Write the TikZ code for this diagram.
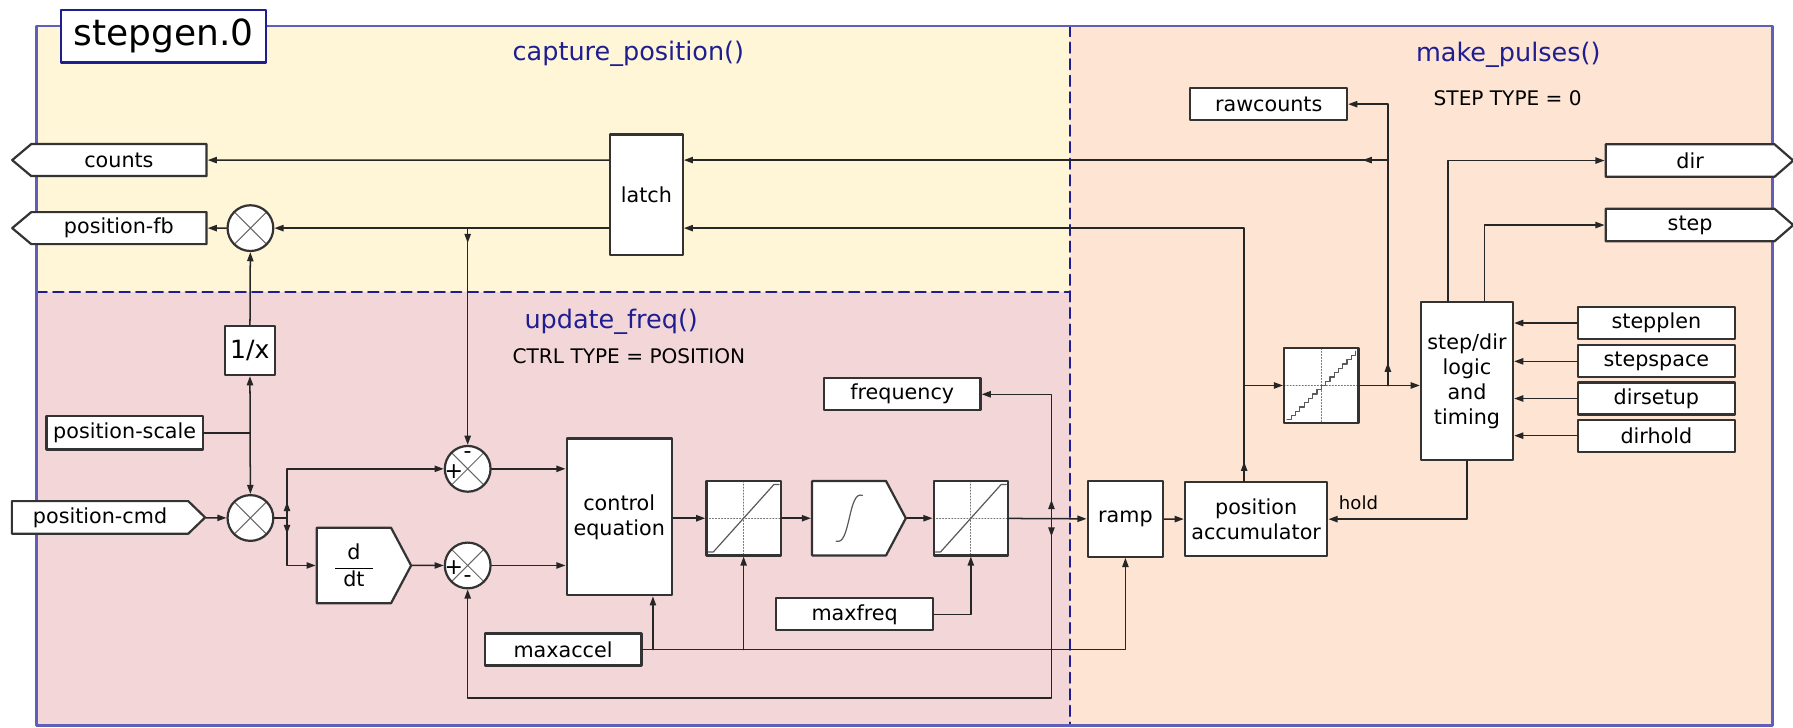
\documentclass[tikz,border=0pt]{standalone}
\usepackage{fontspec}
\setmainfont{DejaVu Sans}
\usepackage{pgf,tikz}
\usetikzlibrary{arrows.meta,shapes.symbols}

\definecolor{capbg}{RGB}{255,245,215}
\definecolor{freqbg}{RGB}{243,214,216}
\definecolor{pulsebg}{RGB}{253,228,211}
\definecolor{frameblue}{RGB}{95,95,185}
\definecolor{navy}{RGB}{30,30,145}

\newcommand\lblfont{\fontsize{10.3}{12.5}\selectfont}
\newcommand\headfont{\fontsize{12.7}{15}\selectfont}

\tikzset{
  box/.style={draw=black!80, line width=1.1pt, fill=white, inner sep=0pt, align=center, font=\lblfont},
  pin/.style={box, minimum width=27.4mm, minimum height=5.6mm},
  portin/.style={box, shape=signal, signal to=east, signal pointer angle=88, minimum height=5.7mm},
  portout/.style={box, shape=signal, signal to=west, signal pointer angle=80, minimum height=5.6mm},
  mult/.style={draw=black!80, line width=1.1pt, fill=white, circle, minimum size=8mm, inner sep=0pt,
    path picture={\draw[black!60, line width=0.5pt]
      (path picture bounding box.north west) -- (path picture bounding box.south east)
      (path picture bounding box.north east) -- (path picture bounding box.south west);}},
  sign/.style={inner sep=0pt, font=\fontsize{11}{11}\selectfont},
  limiter/.style={box, minimum size=13mm,
    path picture={\draw[black!55, densely dotted, line width=0.5pt]
      (path picture bounding box.west) -- (path picture bounding box.east)
      (path picture bounding box.north) -- (path picture bounding box.south);
      \draw[black!65, line width=0.6pt] ([shift={(0.3mm,0.6mm)}]path picture bounding box.south west) -- ++(0.9mm,0)
      -- ([shift={(-1.2mm,-0.6mm)}]path picture bounding box.north east) -- ++(0.9mm,0);}},
  quantizer/.style={box, minimum size=13mm,
    path picture={\draw[black!55, densely dotted, line width=0.5pt]
      (path picture bounding box.west) -- (path picture bounding box.east)
      (path picture bounding box.north) -- (path picture bounding box.south);
      \draw[black!65, line width=0.6pt] ([shift={(0.5mm,0.5mm)}]path picture bounding box.south west)
      \foreach \k in {1,...,16} { -- ++(0.75mm,0) -- ++(0,0.75mm)};}},
  wire/.style={black!85, line width=0.75pt},
  heading/.style={text=navy, font=\headfont, inner sep=0pt},
  note/.style={font=\fontsize{10}{12}\selectfont, inner sep=0pt},
}

\begin{document}
\begin{tikzpicture}[x=0.2mm, y=-0.2mm, line cap=round, line join=round, >={Triangle[length=1.6mm,width=1.1mm]}]
\useasboundingbox (0,0) rectangle (1568,636);
\fill[capbg] (32,22.7) rectangle (935.8,255.6);
\fill[freqbg] (32,255.6) rectangle (935.8,634.5);
\fill[pulsebg] (935.8,22.7) rectangle (1550,634.5);
\draw[navy, line width=1.1pt, dash pattern=on 1.8mm off 1.1mm] (32,255.6) -- (935.8,255.6);
\draw[navy, line width=1.1pt, dash pattern=on 1.8mm off 1.1mm] (935.8,22.7) -- (935.8,634.5);
\draw[frameblue, line width=1.2pt] (32,22.7) rectangle (1550,634.5);

\node[box, draw=navy, font=\fontsize{17.9}{20}\selectfont, minimum width=35.8mm, minimum height=9.2mm] (compname) at (143,31.6) {stepgen.0};
\node[heading] (captitle) at (549.5,46.7) {capture\_position()};
\node[heading] (freqtitle) at (534.5,281.3) {update\_freq()};
\node[note] (ctrltype) at (550,311.3) {CTRL TYPE = POSITION};
\node[heading] (pulsetitle) at (1319,48) {make\_pulses()};
\node[note] (steptype) at (1318.5,86) {STEP TYPE = 0};

\node[portout, minimum width=34mm] (counts) at (104,140) {counts};
\node[portout, minimum width=34mm] (posfb) at (104,199.5) {position-fb};
\node[mult] (fbmult) at (219,199.5) {};
\node[box, minimum width=12.7mm, minimum height=21.1mm] (latch) at (565.3,170.3) {latch};
\node[box, font=\fontsize{12.5}{14}\selectfont, minimum width=8.7mm, minimum height=8.6mm] (recip) at (218.5,306.5) {1/x};
\node[box, minimum width=27.3mm, minimum height=5.8mm] (posscale) at (109,378.5) {position-scale};
\node[portin, minimum width=33.8mm] (poscmd) at (87.5,452.5) {position-cmd};
\node[mult] (cmdmult) at (219,453) {};
\node[portin, signal pointer angle=124, minimum width=16.5mm, minimum height=13.2mm] (ddt) at (309.5,494.5)
  {$\displaystyle{\hbox to 6.6mm{\hfil d\hfil}\over\hbox to 6.6mm{\hfil dt\hfil}}$};
\node[mult] (errsum) at (409,410) {};
\node[sign] (errsumplus) at ([shift={(-2.4mm,-0.5mm)}]errsum.center) {+};
\node[sign] (errsumminus) at ([shift={(0,2.4mm)}]errsum.center) {-};
\node[mult] (velsum) at (409,494.5) {};
\node[sign] (velsumplus) at ([shift={(-2.4mm,-0.3mm)}]velsum.center) {+};
\node[sign] (velsumminus) at ([shift={(0,-2.4mm)}]velsum.center) {-};
\node[box, minimum width=18.4mm, minimum height=27.4mm] (ctrl) at (541.5,452) {control\\equation};
\node[limiter] (acclim) at (650.3,453.2) {};
\node[portin, signal pointer angle=124, minimum width=16.4mm, minimum height=13mm] (integ) at (742.5,453.2) {};
\coordinate (sc) at ([xshift=6.7mm]integ.west);
\draw[black!65, line width=0.6pt] ([shift={(-2.3mm,-4mm)}]sc) .. controls ([shift={(-1.1mm,-4.4mm)}]sc) and ([shift={(-0.6mm,-2.6mm)}]sc) .. (sc)
  .. controls ([shift={(0.6mm,2.6mm)}]sc) and ([shift={(1.1mm,4.4mm)}]sc) .. ([shift={(2.3mm,4mm)}]sc);
\node[limiter] (freqlim) at (849,453.2) {};
\node[pin] (freq) at (789,344.8) {frequency};
\node[pin] (maxfreq) at (747.4,537.2) {maxfreq};
\node[pin] (maxaccel) at (492.4,568) {maxaccel};
\node[box, minimum size=13.2mm] (ramp) at (984.2,453.9) {ramp};
\node[box, minimum width=24.9mm, minimum height=12.9mm] (posacc) at (1098.5,454) {position\\accumulator};
\node[quantizer] (quant) at (1155.5,337.1) {};
\node[pin] (rawcounts) at (1109.5,91.1) {rawcounts};
\node[box, minimum width=16.1mm, minimum height=27.6mm] (stepdir) at (1282.9,333.4) {step/dir\\logic\\and\\timing};
\node[pin] (stepplen) at (1448.5,282.5) {stepplen};
\node[pin] (stepspace) at (1448.5,316) {stepspace};
\node[pin] (dirsetup) at (1448.5,348.5) {dirsetup};
\node[pin] (dirhold) at (1448.5,381) {dirhold};
\node[portin, signal pointer angle=82, minimum width=32.8mm] (dirout) at (1478,140.4) {dir};
\node[portin, signal pointer angle=82, minimum width=32.8mm] (stepout) at (1478,196.8) {step};
\node[font=\fontsize{9}{10}\selectfont, inner sep=0pt] (holdtxt) at (1188,440) {hold};

\draw[wire,->] (latch.west |- counts) -- (counts);
\draw[wire,->] (latch.west |- fbmult) -- (fbmult);
\draw[wire,->] (fbmult) -- (posfb);
\draw[wire,->] (recip) -- (fbmult);
\coordinate (scalej) at (recip |- posscale);
\draw[wire] (posscale) -- (scalej);
\draw[wire,<->] (recip) -- (cmdmult);
\draw[wire,->] (poscmd) -- (cmdmult);
\coordinate (cmdj) at (251,453);
\draw[wire] (cmdmult) -- (cmdj);
\draw[wire,->] (cmdj) -- ++(0,-14);
\draw[wire,->] (cmdj) -- ++(0,14);
\draw[wire,->] (cmdj) |- (errsum);
\draw[wire,->] (cmdj) |- (ddt);
\draw[wire,->] (ddt) -- (velsum);
\draw[wire,->] (errsum) -- (errsum -| ctrl.west);
\draw[wire,->] (velsum) -- (velsum -| ctrl.west);
\coordinate (fbj) at (errsum |- fbmult);
\draw[wire,->] (fbj) -- ++(0,13);
\draw[wire,->] (fbj) -- (errsum);
\draw[wire,->] (ctrl.east |- acclim) -- (acclim);
\draw[wire,->] (acclim) -- (integ);
\draw[wire,->] (integ) -- (freqlim);
\draw[wire,->] (freqlim) -- (ramp);
\coordinate (freqj) at (919.5,453.2);
\draw[wire,->] (freqj) -- ++(0,-16);
\draw[wire,->] (freqj) -- ++(0,16);
\draw[wire,->] (freqj) |- (freq);
\coordinate (fbturn) at (919.5,610.5);
\draw[wire,->] (freqj) -- (fbturn) -| (velsum);
\draw[wire,->] (maxaccel) -| (ramp);
\coordinate (accj) at (571,568);
\draw[wire,->] (accj) -- (accj |- ctrl.south);
\draw[wire,->] (acclim |- maxaccel) -- (acclim);
\draw[wire,->] (maxfreq) -| (freqlim);
\draw[wire,->] (ramp) -- (posacc);
\coordinate (accout) at ([xshift=-2.1mm]posacc.north);
\draw[wire,->] (accout) -- ++(0,-17);
\draw[wire,->] (accout) |- (latch.east |- fbmult);
\coordinate (quantj) at (accout |- quant);
\draw[wire,->] (quantj) -- (quant);
\draw[wire,->] (quant) -- (quant -| stepdir.west);
\coordinate (rawj) at (1213.7,337.1);
\draw[wire,->] (rawj) -- ++(0,-20);
\draw[wire,->] (rawj) |- (rawcounts);
\coordinate (countj) at (rawj |- counts);
\draw[wire,->] (countj) -- ++(-22,0);
\draw[wire,->] (countj) -- (latch.east |- counts);
\draw[wire,->] ([xshift=-3.3mm]stepdir.north) |- (dirout);
\draw[wire,->] ([xshift=3.1mm]stepdir.north) |- (stepout);
\draw[wire,->] (stepplen) -- (stepplen -| stepdir.east);
\draw[wire,->] (stepspace) -- (stepspace -| stepdir.east);
\draw[wire,->] (dirsetup) -- (dirsetup -| stepdir.east);
\draw[wire,->] (dirhold) -- (dirhold -| stepdir.east);
\draw[wire,->] (stepdir) |- (posacc);
\end{tikzpicture}
\end{document}
